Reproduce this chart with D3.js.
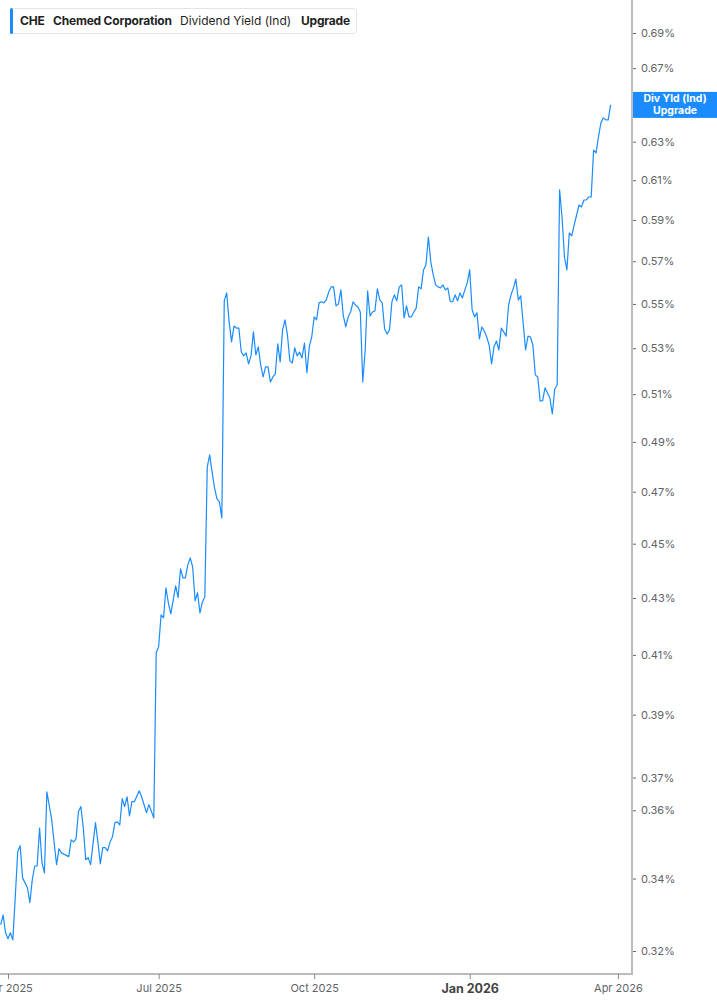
<!DOCTYPE html>
<html>
<head>
<meta charset="utf-8">
<script src="https://cdn.jsdelivr.net/npm/d3@7"></script>
<style>
  html, body { margin: 0; padding: 0; background: #fff; }
  svg { display: block; font-family: Inter, "Noto Sans", sans-serif; }
</style>
</head>
<body>
<div id="chart"></div>
<script>
// dividend yield (%) per trading session, session 0 = 27 Mar 2025; null = not read
const yieldPct = [
  0.3271, 0.3298, 0.3249, 0.3233, 0.3249, 0.3230, 0.3349, 0.3477, 0.3495, 0.3402,
  null, 0.3374, 0.3332, 0.3397, 0.3436, 0.3436, 0.3547, 0.3445, 0.3416, 0.3656,
  null, 0.3571, 0.3503, 0.3440, 0.3486, 0.3474, null, null, 0.3463, 0.3512,
  0.3506, 0.3515, 0.3596, 0.3611, 0.3547, 0.3454, 0.3460, 0.3440, null, 0.3563,
  0.3506, 0.3442, 0.3489, 0.3489, 0.3480, 0.3506, 0.3521, 0.3563, 0.3565, 0.3556,
  0.3635, 0.3611, 0.3641, 0.3583, 0.3626, 0.3626, null, 0.3659, 0.3641, null,
  0.3592, 0.3617, null, 0.3577, 0.4108, 0.4128, 0.4240, 0.4229, 0.4337, 0.4282,
  0.4243, 0.4293, 0.4344, 0.4301, 0.4406, 0.4373, 0.4373, 0.4421, 0.4447, 0.4413,
  0.4290, 0.4319, 0.4247, 0.4286, 0.4304, 0.4798, 0.4847, 0.4778, 0.4715, 0.4672,
  0.4660, 0.4598, 0.5514, 0.5551, 0.5418, 0.5328, 0.5399, 0.5390, 0.5390, 0.5283,
  0.5266, 0.5279, 0.5231, 0.5266, 0.5373, 0.5270, 0.5306, 0.5226, 0.5174, 0.5218,
  0.5218, 0.5152, 0.5174, 0.5187, 0.5319, 0.5239, 0.5382, 0.5427, 0.5359, 0.5244,
  0.5235, 0.5301, 0.5266, 0.5283, 0.5257, 0.5323, 0.5192, 0.5306, 0.5350, 0.5441,
  0.5427, 0.5505, 0.5510, 0.5505, 0.5519, 0.5556, 0.5579, 0.5579, 0.5491, 0.5500,
  0.5565, 0.5445, 0.5395, 0.5441, 0.5463, 0.5510, 0.5495, 0.5486, 0.5463, 0.5152,
  0.5292, 0.5560, 0.5445, 0.5463, 0.5468, 0.5570, 0.5519, 0.5505, 0.5386, 0.5363,
  0.5382, 0.5510, 0.5542, 0.5514, 0.5579, 0.5588, 0.5436, 0.5491, 0.5441, 0.5441,
  0.5463, 0.5481, 0.5579, 0.5570, 0.5659, 0.5683, 0.5817, 0.5697, 0.5635, 0.5588,
  0.5579, 0.5574, 0.5588, 0.5565, 0.5574, 0.5510, 0.5510, 0.5542, 0.5514, 0.5551,
  0.5528, 0.5565, 0.5598, 0.5659, 0.5473, 0.5441, 0.5459, 0.5341, 0.5395, 0.5377,
  0.5350, 0.5314, 0.5231, 0.5306, 0.5332, 0.5292, 0.5390, 0.5373, 0.5354, 0.5495,
  0.5542, 0.5574, 0.5616, 0.5519, 0.5537, 0.5413, 0.5292, 0.5354, 0.5350, 0.5314,
  0.5183, 0.5174, 0.5071, 0.5071, 0.5127, null, 0.5084, 0.5016, 0.5122, 0.5139,
  0.6051, 0.5915, 0.5721, 0.5659, 0.5837, 0.5822, 0.5876, 0.5925, 0.5975, 0.5965,
  0.6000, 0.6000, 0.6015, 0.6015, 0.6256, 0.6241, 0.6325, 0.6400, 0.6427, 0.6416,
  0.6416, 0.6497
];

// x ticks: trading session index and label
const xTickSessions = [3, 65, 129, 193, 254];
const xTickLabels = ["Apr 2025", "Jul 2025", "Oct 2025", "Jan 2026", "Apr 2026"];

const yTicks = [0.32, 0.34, 0.36, 0.37, 0.39, 0.41, 0.43, 0.45, 0.47, 0.49,
  0.51, 0.53, 0.55, 0.57, 0.59, 0.61, 0.63, 0.65, 0.67, 0.69];

const legendParts = [
  { text: "CHE", bold: true },
  { text: "Chemed Corporation", bold: true },
  { text: "Dividend Yield (Ind)", bold: false },
  { text: "Upgrade", bold: true }
];

const width = 717;
const height = 1005;
const axisX = 632;
const axisY = 974;
const blue = "#1a8cff";

const svg = d3.select("#chart").append("svg")
  .attr("width", width)
  .attr("height", height);

const x = d3.scaleLinear().domain([0, 260]).range([0.7, 632.5]);
const y = d3.scaleLog().domain([0.32, 0.69]).range([951, 33]);

const points = yieldPct
  .map((v, i) => ({ s: i, v: v }))
  .filter(d => d.v !== null);

// price line
svg.append("path")
  .datum(points)
  .attr("fill", "none")
  .attr("stroke", blue)
  .attr("stroke-width", 1.2)
  .attr("stroke-linejoin", "round")
  .attr("d", d3.line().x(d => x(d.s)).y(d => y(d.v)));

// right axis
svg.append("line")
  .attr("x1", axisX).attr("x2", axisX)
  .attr("y1", 0).attr("y2", axisY + 1)
  .attr("stroke", "#bcbcbc").attr("stroke-width", 2);

const yAxis = svg.append("g")
  .attr("transform", `translate(${axisX + 1},0)`)
  .call(d3.axisRight(y).tickValues(yTicks).tickSize(3).tickPadding(5)
    .tickFormat(d => d.toFixed(2) + "%"));
yAxis.select(".domain").remove();
yAxis.selectAll(".tick line").attr("stroke", "#666");
yAxis.selectAll(".tick text")
  .attr("fill", "#5f6368")
  .style("font-size", "11px")
  .style("font-family", "Inter, sans-serif");

// bottom axis
svg.append("line")
  .attr("x1", 0).attr("x2", axisX + 1)
  .attr("y1", axisY).attr("y2", axisY)
  .attr("stroke", "#bcbcbc").attr("stroke-width", 2);

const xAxis = svg.append("g")
  .attr("transform", `translate(0,${axisY})`)
  .call(d3.axisBottom(x).tickValues(xTickSessions).tickSize(5).tickPadding(5)
    .tickFormat((d, i) => xTickLabels[i]));
xAxis.select(".domain").remove();
xAxis.selectAll(".tick line").attr("stroke", "#888");
xAxis.selectAll(".tick text")
  .attr("fill", "#5f6368")
  .style("font-size", "11px")
  .style("font-family", "Inter, sans-serif")
  .filter(d => d === 193)
  .attr("fill", "#444")
  .style("font-size", "12.5px")
  .style("font-weight", "700");

// last value label (covers the 0.65% tick like the original)
const lastVal = points[points.length - 1].v;
const tag = svg.append("g").attr("transform", `translate(${axisX + 1},${y(lastVal)})`);
tag.append("rect")
  .attr("x", 0).attr("y", -13)
  .attr("width", width - axisX).attr("height", 26)
  .attr("fill", blue);
tag.append("text")
  .attr("x", 42).attr("y", -2.5)
  .attr("text-anchor", "middle")
  .attr("fill", "#fff")
  .style("font-size", "10.5px").style("font-weight", "700")
  .text("Div Yld (Ind)");
tag.append("text")
  .attr("x", 42).attr("y", 9.5)
  .attr("text-anchor", "middle")
  .attr("fill", "#fff")
  .style("font-size", "10.5px").style("font-weight", "700")
  .text("Upgrade");

// legend header
const legend = svg.append("g").attr("transform", "translate(10,8)");
legend.append("rect")
  .attr("x", 0.5).attr("y", 0.5)
  .attr("width", 346).attr("height", 25)
  .attr("rx", 3)
  .attr("fill", "#fff")
  .attr("stroke", "#e4e4e4");
legend.append("rect")
  .attr("x", 0).attr("y", 0)
  .attr("width", 3).attr("height", 26)
  .attr("rx", 1.5)
  .attr("fill", blue);

const legendX = [10, 43, 170, 291];
legend.selectAll("text.part")
  .data(legendParts)
  .enter()
  .append("text")
  .attr("class", "part")
  .attr("x", (d, i) => legendX[i])
  .attr("y", 17)
  .attr("fill", "#1f1f1f")
  .style("font-size", "12px")
  .style("letter-spacing", d => d.bold ? "-0.2px" : "0px")
  .style("font-weight", d => d.bold ? "700" : "400")
  .text(d => d.text);
</script>
</body>
</html>
